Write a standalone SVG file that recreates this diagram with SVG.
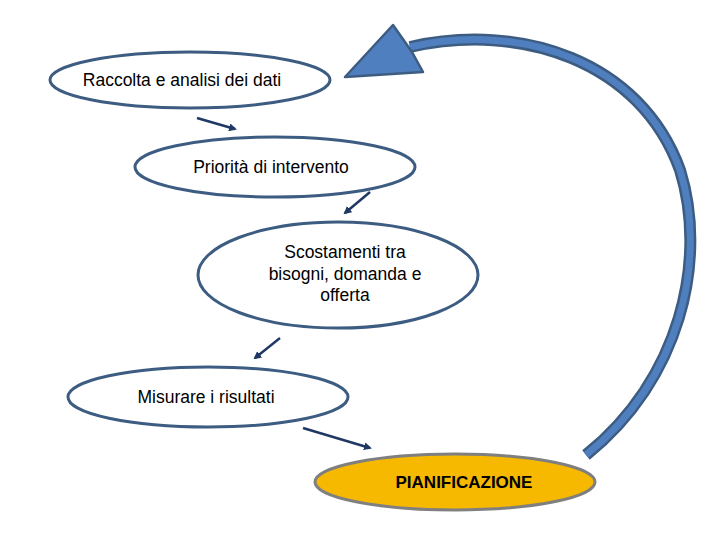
<svg xmlns="http://www.w3.org/2000/svg" width="720" height="540" viewBox="0 0 720 540">
<style>
.n{fill:#fff;stroke:#3d5c82;stroke-width:3}
.t{font-family:"Liberation Sans",Arial,sans-serif;font-size:17.5px;fill:#000;text-anchor:middle}
.c{stroke:#1f3864;stroke-width:2.5;fill:none;marker-end:url(#a)}
</style>
<defs><marker id="a" markerWidth="8" markerHeight="8" refX="6" refY="4" orient="auto" markerUnits="userSpaceOnUse"><path d="M0,0L8,4L0,8z" fill="#1f3864"/></marker></defs>
<rect width="720" height="540" fill="#fff"/>
<g id="n1"><ellipse class="n" cx="190" cy="80" rx="140" ry="28"/><text class="t" x="182" y="86">Raccolta e analisi dei dati</text></g>
<g id="n2"><ellipse class="n" cx="275" cy="167" rx="140" ry="30"/><text class="t" x="271" y="173">Priorità di intervento</text></g>
<g id="n3"><ellipse class="n" cx="338" cy="275" rx="140" ry="53"/><text class="t" x="345" y="258">Scostamenti tra</text><text class="t" x="345" y="280">bisogni, domanda e</text><text class="t" x="345" y="301">offerta</text></g>
<g id="n4"><ellipse class="n" cx="208" cy="397" rx="140" ry="30"/><text class="t" x="206" y="403">Misurare i risultati</text></g>
<g id="n5"><ellipse cx="455" cy="482" rx="140" ry="28" fill="#f7b900" stroke="#7f7f7f" stroke-width="3"/><text class="t" x="464" y="488" font-weight="bold" style="font-size:17px">PIANIFICAZIONE</text></g>
<g id="connectors">
<path class="c" d="M197,118L235,129"/>
<path class="c" d="M370,192L345,213"/>
<path class="c" d="M280,338L255,358"/>
<path class="c" d="M303,428L370,448"/>
<path d="M410,47C520,22 640,60 680,170C708,260 680,380 586,455" fill="none" stroke="#3d5c82" stroke-width="12"/>
<path d="M410,47C520,22 640,60 680,170C708,260 680,380 586,455" fill="none" stroke="#4f7fbf" stroke-width="7"/>
<path d="M393,25L345,77L423,72L412,52z" fill="#4f7fbf" stroke="#3d5c82" stroke-width="2.5" stroke-linejoin="round"/>
</g>
</svg>
